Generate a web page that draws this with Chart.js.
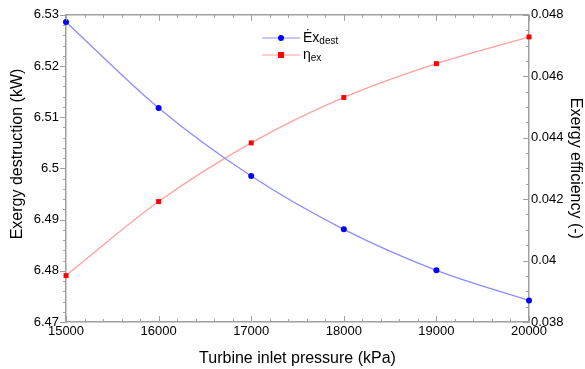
<!DOCTYPE html>
<html>
<head>
<meta charset="utf-8">
<script src="https://cdn.jsdelivr.net/npm/chart.js@4"></script>
<style>
  body { margin: 0; background: #fff; }
  #wrap { width: 585px; height: 369px; }
</style>
</head>
<body>
<div id="wrap"><canvas id="chart" width="585" height="369"></canvas></div>
<script>
// data
const pressures = [15000, 16000, 17000, 18000, 19000, 20000];
const exergyDest = [6.5286, 6.5118, 6.4985, 6.4881, 6.4801, 6.4742];
const exergyEff = [0.03951, 0.04192, 0.04383, 0.04531, 0.04641, 0.04728];

const axisColor = '#a0a0a0';
const fontFam = '"Liberation Sans", Arial, sans-serif';
const fmt = (v) => String(parseFloat(v.toFixed(4)));

// frame on top + minor/major tick marks, drawn by hand
const framePlugin = {
  id: 'frame',
  afterDraw(chart) {
    const { ctx, chartArea: a, scales } = chart;
    ctx.save();
    ctx.strokeStyle = axisColor;
    ctx.lineWidth = 1.5;
    ctx.beginPath();
    ctx.moveTo(a.left, a.top);
    ctx.lineTo(a.right, a.top);
    ctx.stroke();

    ctx.lineWidth = 1;
    ctx.beginPath();
    // x ticks, inside, bottom and top
    for (let v = 15000; v <= 20000; v += 200) {
      const x = Math.round(scales.x.getPixelForValue(v)) + 0.5;
      const len = v % 1000 === 0 ? 6 : 3;
      ctx.moveTo(x, a.bottom); ctx.lineTo(x, a.bottom - len);
      ctx.moveTo(x, a.top); ctx.lineTo(x, a.top + len);
    }
    // left ticks, outside
    for (let i = 0; i <= 30; i++) {
      const v = 6.47 + i * 0.002;
      const y = Math.round(scales.y.getPixelForValue(v)) + 0.5;
      const len = i % 5 === 0 ? 6 : 3;
      ctx.moveTo(a.left, y); ctx.lineTo(a.left - len, y);
    }
    // right ticks, inside
    for (let i = 0; i <= 20; i++) {
      const v = 0.038 + i * 0.0005;
      const y = Math.round(scales.y1.getPixelForValue(v)) + 0.5;
      const len = i % 4 === 0 ? 6 : 3;
      ctx.moveTo(a.right, y); ctx.lineTo(a.right - len, y);
    }
    ctx.stroke();

    // left axis title, sits a little above centre in the original
    ctx.fillStyle = '#000';
    ctx.font = '16px ' + fontFam;
    ctx.textAlign = 'center';
    ctx.textBaseline = 'middle';
    ctx.translate(18, 154);
    ctx.rotate(-Math.PI / 2);
    ctx.fillText('Exergy destruction (kW)', 0, 0);
    ctx.setTransform(1, 0, 0, 1, 0, 0);

    // legend
    const items = [
      { color: '#8c8cff', point: '#0000ff', shape: 'circle', main: 'Ėx', sub: 'dest', y: 38 },
      { color: '#ffa0a0', point: '#ff0000', shape: 'rect', main: 'η', sub: 'ex', y: 55 }
    ];
    ctx.textAlign = 'left';
    items.forEach((it) => {
      ctx.strokeStyle = it.color;
      ctx.lineWidth = 1.2;
      ctx.beginPath();
      ctx.moveTo(262, it.y); ctx.lineTo(300, it.y);
      ctx.stroke();
      ctx.fillStyle = it.point;
      if (it.shape === 'circle') {
        ctx.beginPath(); ctx.arc(281, it.y, 3, 0, Math.PI * 2); ctx.fill();
      } else {
        ctx.fillRect(278, it.y - 3, 6, 6);
      }
      ctx.fillStyle = '#000';
      ctx.textBaseline = 'middle';
      ctx.font = '14px ' + fontFam;
      ctx.fillText(it.main, 303, it.y);
      const w = ctx.measureText(it.main).width;
      ctx.font = '10px ' + fontFam;
      ctx.fillText(it.sub, 303 + w, it.y + 3);
    });
    ctx.restore();
  }
};

new Chart(document.getElementById('chart'), {
  type: 'line',
  data: {
    datasets: [
      {
        label: 'Exdest',
        data: pressures.map((p, i) => ({ x: p, y: exergyDest[i] })),
        yAxisID: 'y',
        borderColor: '#8c8cff',
        backgroundColor: '#0000ff',
        borderWidth: 1.3,
        pointRadius: 3,
        pointStyle: 'circle',
        pointBorderWidth: 0,
        cubicInterpolationMode: 'monotone'
      },
      {
        label: 'ηex',
        data: pressures.map((p, i) => ({ x: p, y: exergyEff[i] })),
        yAxisID: 'y1',
        borderColor: '#ffa0a0',
        backgroundColor: '#ff0000',
        borderWidth: 1.3,
        pointRadius: 3.5,
        pointStyle: 'rect',
        pointBorderWidth: 0,
        cubicInterpolationMode: 'monotone'
      }
    ]
  },
  plugins: [framePlugin],
  options: {
    responsive: false,
    animation: false,
    clip: false,
    layout: { padding: { top: 13, left: 0, right: 0, bottom: 0 } },
    plugins: { legend: { display: false }, tooltip: { enabled: false } },
    scales: {
      x: {
        type: 'linear',
        min: 15000,
        max: 20000,
        afterFit: (s) => { s.height = 47; },
        grid: { display: false, drawTicks: false },
        border: { color: axisColor, width: 1.5 },
        ticks: {
          stepSize: 1000,
          padding: 2,
          color: '#000',
          font: { size: 13, family: fontFam },
          maxRotation: 0,
          callback: (v) => String(v)
        },
        title: {
          display: true,
          text: 'Turbine inlet pressure (kPa)',
          color: '#000',
          padding: { top: 0, bottom: 1 },
          font: { size: 16, family: fontFam }
        }
      },
      y: {
        position: 'left',
        min: 6.47,
        max: 6.53,
        afterFit: (s) => { s.width = 66; },
        grid: { display: false, drawTicks: false },
        border: { color: axisColor, width: 1.5 },
        ticks: {
          stepSize: 0.01,
          padding: 7,
          color: '#000',
          font: { size: 13, family: fontFam },
          callback: (v) => fmt(v)
        },
        title: { display: false }
      },
      y1: {
        position: 'right',
        min: 0.038,
        max: 0.048,
        afterFit: (s) => { s.width = 56; },
        grid: { display: false, drawTicks: false },
        border: { color: axisColor, width: 1.5 },
        ticks: {
          stepSize: 0.002,
          padding: 2,
          color: '#000',
          font: { size: 13, family: fontFam },
          callback: (v) => fmt(v)
        },
        title: {
          display: true,
          text: 'Exergy efficiency (-)',
          color: '#000',
          padding: { top: 0, bottom: 8 },
          font: { size: 16, family: fontFam }
        }
      }
    }
  }
});
</script>
</body>
</html>
